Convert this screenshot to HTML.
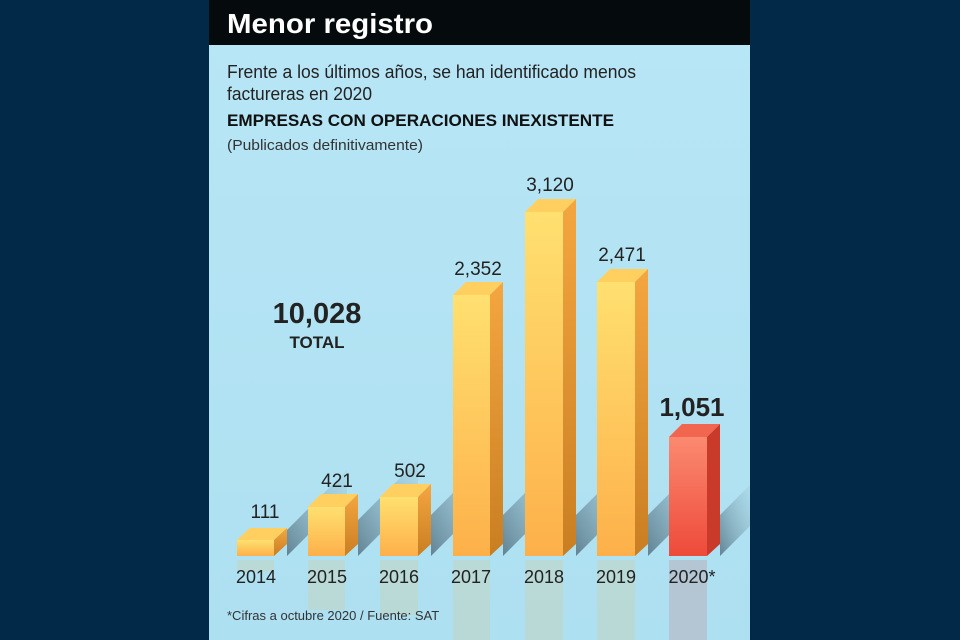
<!DOCTYPE html>
<html><head><meta charset="utf-8"><style>
html,body{margin:0;padding:0;width:960px;height:640px;overflow:hidden;background:#022a48;}
svg{display:block}
text{font-family:"Liberation Sans",sans-serif;}
</style></head><body>
<svg width="960" height="640" viewBox="0 0 960 640" xmlns="http://www.w3.org/2000/svg">
<defs>
<linearGradient id="bg" x1="0" y1="0" x2="0" y2="1"><stop offset="0" stop-color="#b8e6f6"/><stop offset="1" stop-color="#ade0f1"/></linearGradient>
<linearGradient id="fy" x1="0" y1="0" x2="0" y2="1"><stop offset="0" stop-color="#ffe070"/><stop offset="1" stop-color="#fdb04a"/></linearGradient>
<linearGradient id="sy" x1="0" y1="0" x2="0" y2="1"><stop offset="0" stop-color="#f4a640"/><stop offset="1" stop-color="#c97e22"/></linearGradient>
<linearGradient id="fr" x1="0" y1="0" x2="0" y2="1"><stop offset="0" stop-color="#fb8a70"/><stop offset="1" stop-color="#ee4a3a"/></linearGradient>
<linearGradient id="sh" x1="0" y1="1" x2="1" y2="0"><stop offset="0" stop-color="#4f6c7c" stop-opacity="0.8"/><stop offset="1" stop-color="#9fc7d6" stop-opacity="0.25"/></linearGradient>
</defs>
<rect x="209" y="0" width="541" height="640" fill="url(#bg)"/>
<rect x="209" y="0" width="541" height="45" fill="#050a0c"/>
<text x="227" y="33" font-size="28" font-weight="bold" fill="#fff" textLength="206" lengthAdjust="spacingAndGlyphs">Menor registro</text>
<text x="227" y="78" font-size="18" fill="#222" textLength="409" lengthAdjust="spacingAndGlyphs">Frente a los últimos años, se han identificado menos</text>
<text x="227" y="100" font-size="18" fill="#222" textLength="145" lengthAdjust="spacingAndGlyphs">factureras en 2020</text>
<text x="227" y="126" font-size="17" font-weight="bold" fill="#111" textLength="387" lengthAdjust="spacingAndGlyphs">EMPRESAS CON OPERACIONES INEXISTENTE</text>
<text x="227" y="150" font-size="14.5" fill="#333" textLength="196" lengthAdjust="spacingAndGlyphs">(Publicados definitivamente)</text>
<text x="317" y="323" font-size="29" font-weight="bold" fill="#222" text-anchor="middle">10,028</text>
<text x="317" y="348" font-size="17" font-weight="bold" fill="#222" text-anchor="middle">TOTAL</text>
<g fill="url(#sh)">
<polygon points="287,556 287,530 347,470 347,496"/>
<polygon points="358,556 358,520 418,460 418,496"/>
<polygon points="431,556 431,515 491,455 491,496"/>
<polygon points="503,556 503,515 563,455 563,496"/>
<polygon points="576,556 576,515 636,455 636,496"/>
<polygon points="648,556 648,515 708,455 708,496"/>
<polygon points="720,556 720,515 750,485 750,526"/>
</g>
<g opacity="0.2">
<rect x="237" y="560" width="37" height="12" fill="#e8c070"/>
<rect x="308" y="560" width="37" height="50" fill="#e8c070"/>
<rect x="380" y="560" width="38" height="55" fill="#e8c070"/>
<rect x="453" y="560" width="37" height="80" fill="#e8c070"/>
<rect x="525" y="560" width="38" height="80" fill="#e8c070"/>
<rect x="597" y="560" width="38" height="80" fill="#e8c070"/>
<rect x="669" y="560" width="38" height="80" fill="#d06060"/>
</g>
<g>
<polygon points="237,540 250,528 287,528 274,540" fill="#ffd060"/><rect x="237" y="540" width="37" height="16" fill="url(#fy)"/><polygon points="274,540 287,528 287,544 274,556" fill="url(#sy)"/>
<polygon points="308,507 321,494 358,494 345,507" fill="#ffd060"/><rect x="308" y="507" width="37" height="49" fill="url(#fy)"/><polygon points="345,507 358,494 358,544 345,556" fill="url(#sy)"/>
<polygon points="380,497 393,484 431,484 418,497" fill="#ffd060"/><rect x="380" y="497" width="38" height="59" fill="url(#fy)"/><polygon points="418,497 431,484 431,544 418,556" fill="url(#sy)"/>
<polygon points="453,295 466,282 503,282 490,295" fill="#ffd060"/><rect x="453" y="295" width="37" height="261" fill="url(#fy)"/><polygon points="490,295 503,282 503,544 490,556" fill="url(#sy)"/>
<polygon points="525,212 538,199 576,199 563,212" fill="#ffd060"/><rect x="525" y="212" width="38" height="344" fill="url(#fy)"/><polygon points="563,212 576,199 576,544 563,556" fill="url(#sy)"/>
<polygon points="597,282 610,269 648,269 635,282" fill="#ffd060"/><rect x="597" y="282" width="38" height="274" fill="url(#fy)"/><polygon points="635,282 648,269 648,544 635,556" fill="url(#sy)"/>
<polygon points="669,437 682,424 720,424 707,437" fill="#f26650"/><rect x="669" y="437" width="38" height="119" fill="url(#fr)"/><polygon points="707,437 720,424 720,544 707,556" fill="#c93a2a"/>
</g>
<g font-size="19" fill="#222" text-anchor="middle">
<text x="265" y="518">111</text>
<text x="337" y="487">421</text>
<text x="410" y="477">502</text>
<text x="478" y="275">2,352</text>
<text x="550" y="191">3,120</text>
<text x="622" y="261">2,471</text>
</g>
<text x="692" y="416" font-size="26" font-weight="bold" fill="#222" text-anchor="middle">1,051</text>
<g font-size="18" fill="#222" text-anchor="middle">
<text x="256" y="583">2014</text><text x="327" y="583">2015</text><text x="399" y="583">2016</text>
<text x="471" y="583">2017</text><text x="544" y="583">2018</text><text x="616" y="583">2019</text><text x="692" y="583">2020*</text>
</g>
<text x="227" y="620" font-size="13" fill="#333">*Cifras a octubre 2020 / Fuente: SAT</text>
</svg>
</body></html>
